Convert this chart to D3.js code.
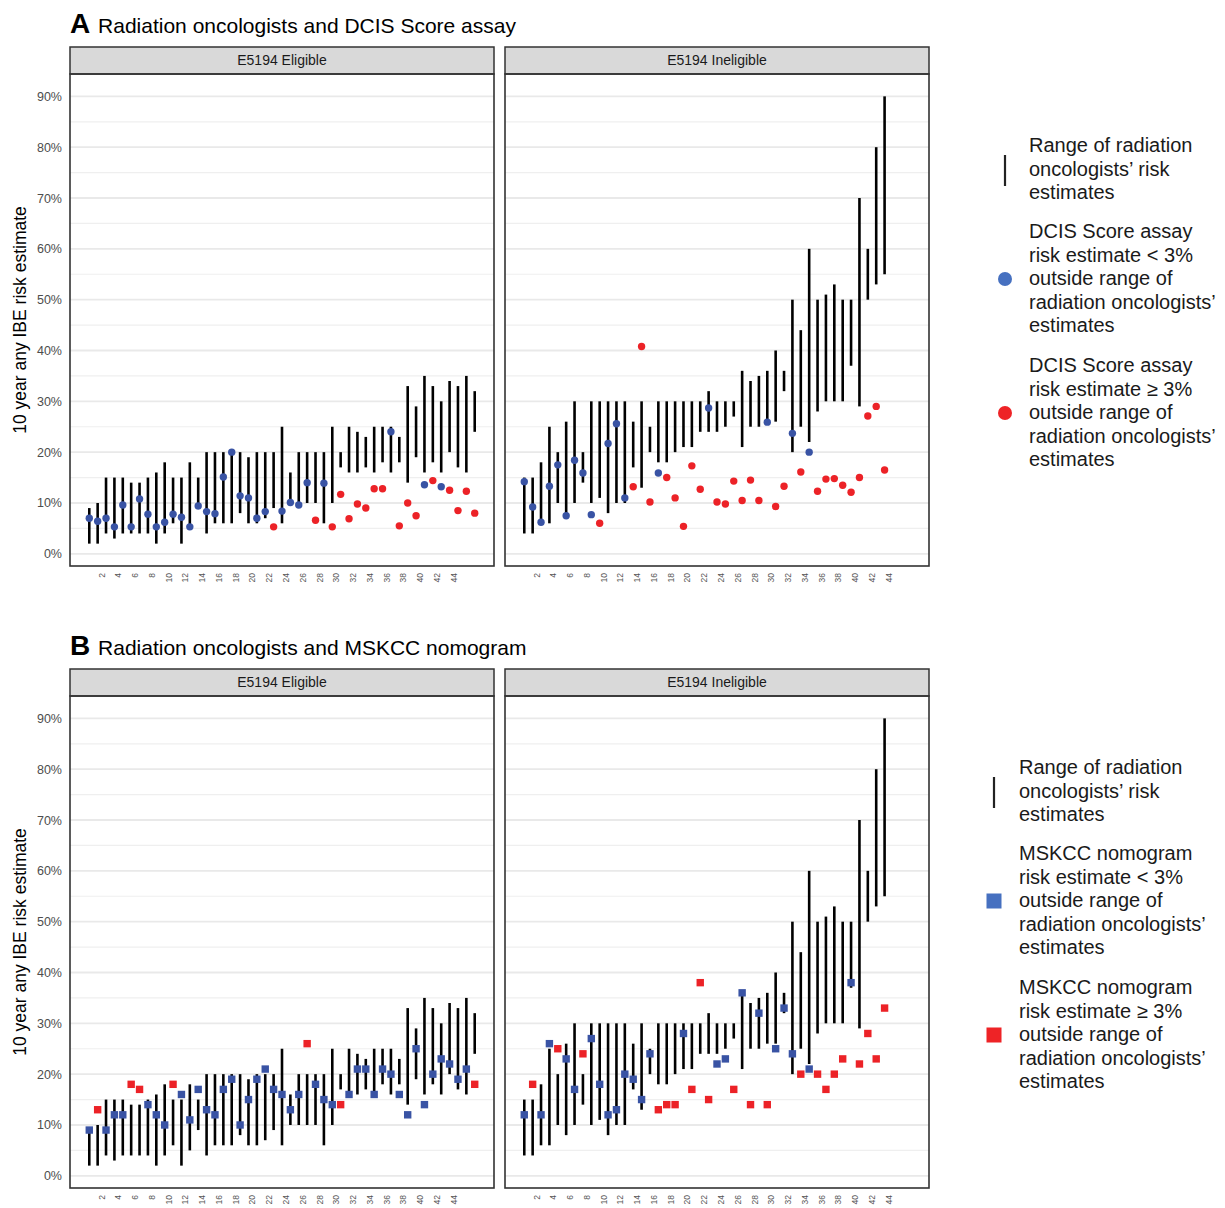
<!DOCTYPE html>
<html>
<head>
<meta charset="utf-8">
<script src="https://cdn.jsdelivr.net/npm/d3@7"></script>
<style>
  body { margin: 0; background: #fff; }
  text { font-family: "Liberation Sans", Arial, Helvetica, sans-serif; }
</style>
</head>
<body>
<svg id="chart"></svg>
<script>
// ---- data ----
// radiation oncologists' range per case, E5194 eligible (47 cases)
const eligLow  = [2,2,4,3,4,4,4,4,2,4, 6,2,5,9,4,6,6,6,8,6, 6,7,9,6,10,10,10,10,6,10, 17,16,16,17,16,18,16,18,14,19, 16,18,16,20,17,16,24];
const eligHigh = [9,10,15,15,15,14,14,15,16,18, 15,15,18,15,20,20,20,20,20,19, 20,20,20,25,16,20,20,20,20,25, 20,25,24,23,25,25,25,23,33,29, 35,33,30,34,33,35,32];
// E5194 ineligible (44 cases)
const inelLow  = [4,4,6,6,10,8,10,14,10,11, 8,10,10,17,13,20,18,18,20,21, 21,24,24,24,25,27,21,25,25,26, 26,32,20,25,22,28,30,30,30,37, 29,50,53,55];
const inelHigh = [15,15,18,25,20,26,30,20,30,30, 30,30,30,26,30,25,30,30,30,30, 30,30,32,30,30,30,36,34,35,36, 40,36,50,44,60,50,51,53,50,50, 70,60,80,90];

// DCIS Score assay estimates; group 0 = < 3% outside range (blue), 1 = >= 3% outside (red)
const dcisElig    = [7.0,6.4,7.0,5.3,9.6,5.3,10.8,7.8,5.3,6.2, 7.8,7.2,5.3,9.4,8.3,7.9,15.1,20.0,11.4,11.0, 7.0,8.3,5.3,8.4,10.1,9.6,14.0,6.6,13.9,5.3, 11.7,6.9,9.8,9.0,12.8,12.8,24.0,5.5,10.0,7.5, 13.6,14.4,13.2,12.5,8.5,12.3,8.0];
const dcisEligGrp = [0,0,0,0,0,0,0,0,0,0, 0,0,0,0,0,0,0,0,0,0, 0,0,1,0,0,0,0,1,0,1, 1,1,1,1,1,1,0,1,1,1, 0,1,0,1,1,1,1];
const dcisInel    = [14.2,9.2,6.2,13.3,17.5,7.5,18.4,15.9,7.7,6.0, 21.7,25.6,11.0,13.2,40.8,10.2,15.9,15.0,11.0,5.4, 17.3,12.7,28.7,10.2,9.8,14.3,10.5,14.5,10.5,25.9, 9.3,13.3,23.7,16.1,20.0,12.3,14.7,14.8,13.5,12.1, 15.0,27.1,29.0,16.5];
const dcisInelGrp = [0,0,0,0,0,0,0,0,0,1, 0,0,0,1,1,1,0,1,1,1, 1,1,0,1,1,1,1,1,1,0, 1,1,0,1,0,1,1,1,1,1, 1,1,1,1];

// MSKCC nomogram estimates
const mskElig    = [9,13,9,12,12,18,17,14,12,10, 18,16,11,17,13,12,17,19,10,15, 19,21,17,16,13,16,26,18,15,14, 14,16,21,21,16,21,20,16,12,25, 14,20,23,22,19,21,18];
const mskEligGrp = [0,1,0,0,0,1,1,0,0,0, 1,0,0,0,0,0,0,0,0,0, 0,0,0,0,0,0,1,0,0,0, 1,0,0,0,0,0,0,0,0,0, 0,0,0,0,0,0,1];
const mskInel    = [12,18,12,26,25,23,17,24,27,18, 12,13,20,19,15,24,13,14,14,28, 17,38,15,22,23,17,36,14,32,14, 25,33,24,20,21,20,17,20,23,38, 22,28,23,33];
const mskInelGrp = [0,1,0,0,1,0,0,1,0,0, 0,0,0,0,0,0,1,1,1,0, 1,1,1,0,0,1,0,1,0,1, 0,0,0,1,0,1,1,1,1,0, 1,1,1,1];

const yTicks = [0,10,20,30,40,50,60,70,80,90];
const yMinor = [5,15,25,35,45,55,65,75,85];
const xTicks = [2,4,6,8,10,12,14,16,18,20,22,24,26,28,30,32,34,36,38,40,42,44];

const grpColor = ["#3953a4", "#ec2227"];
const legColor = ["#4670c0", "#ee2326"];

// ---- layout ----
const W = 1225, H = 1208;
const pw = 424, ph = 492, stripH = 27;
const svg = d3.select("#chart").attr("width", W).attr("height", H);
svg.append("rect").attr("width", W).attr("height", H).attr("fill", "#fff");

const x = d3.scaleLinear().domain([-1.3, 49.3]).range([0, pw]);
const y = d3.scaleLinear().domain([-2.4, 94.4]).range([ph, 0]);

function panel(px, py, label, low, high, est, grp, shape, showY) {
  const g = svg.append("g").attr("transform", `translate(${px},${py})`);

  g.append("rect").attr("x", 0).attr("y", -stripH).attr("width", pw).attr("height", stripH)
    .attr("fill", "#d9d9d9").attr("stroke", "#333").attr("stroke-width", 1.5);
  g.append("text").attr("x", pw / 2).attr("y", -stripH / 2).attr("dy", "0.35em")
    .attr("text-anchor", "middle").attr("font-size", 14).attr("fill", "#1a1a1a").text(label);

  g.selectAll(".minor").data(yMinor).enter().append("line")
    .attr("x1", 0).attr("x2", pw).attr("y1", d => y(d)).attr("y2", d => y(d))
    .attr("stroke", "#efefef").attr("stroke-width", 1.2);
  g.selectAll(".major").data(yTicks).enter().append("line")
    .attr("x1", 0).attr("x2", pw).attr("y1", d => y(d)).attr("y2", d => y(d))
    .attr("stroke", "#e9e9e9").attr("stroke-width", 1.8);

  g.selectAll(".bar").data(low).enter().append("line")
    .attr("x1", (d, i) => x(i + 1)).attr("x2", (d, i) => x(i + 1))
    .attr("y1", d => y(d)).attr("y2", (d, i) => y(high[i]))
    .attr("stroke", "#000").attr("stroke-width", 2.6);

  if (shape === "circle") {
    g.selectAll(".pt").data(est).enter().append("circle")
      .attr("cx", (d, i) => x(i + 1)).attr("cy", d => y(d)).attr("r", 3.7)
      .attr("fill", (d, i) => grpColor[grp[i]]);
  } else {
    const s = 7.4;
    g.selectAll(".pt").data(est).enter().append("rect")
      .attr("x", (d, i) => x(i + 1) - s / 2).attr("y", d => y(d) - s / 2)
      .attr("width", s).attr("height", s)
      .attr("fill", (d, i) => grpColor[grp[i]]);
  }

  g.append("rect").attr("width", pw).attr("height", ph).attr("fill", "none")
    .attr("stroke", "#333").attr("stroke-width", 1.6);

  const xa = g.append("g").attr("transform", `translate(0,${ph})`)
    .call(d3.axisBottom(x).tickValues(xTicks).tickSize(0));
  xa.select(".domain").remove();
  xa.selectAll("text")
    .attr("transform", "rotate(-90)").attr("x", -7).attr("y", 3.5).attr("dy", "0.35em")
    .style("text-anchor", "end").attr("font-size", 8.5).attr("fill", "#555");

  if (showY) {
    const ya = g.append("g")
      .call(d3.axisLeft(y).tickValues(yTicks).tickSize(0).tickPadding(8).tickFormat(d => d + "%"));
    ya.select(".domain").remove();
    ya.selectAll("text").attr("font-size", 12.5).attr("fill", "#4d4d4d");
  }
  return g;
}

function section(off, letter, title, eligEst, eligGrp, inelEst, inelGrp, shape) {
  const t = svg.append("text").attr("x", 70).attr("y", 33 + off).attr("fill", "#000");
  t.append("tspan").attr("font-size", 28).attr("font-weight", "bold").text(letter);
  t.append("tspan").attr("font-size", 21).attr("dx", 2).text(" " + title);

  svg.append("text").attr("transform", `translate(26,${320 + off}) rotate(-90)`)
    .attr("text-anchor", "middle").attr("font-size", 17.5).attr("fill", "#000")
    .text("10 year any IBE risk estimate");

  panel(70, 74 + off, "E5194 Eligible", eligLow, eligHigh, eligEst, eligGrp, shape, true);
  panel(505, 74 + off, "E5194 Ineligible", inelLow, inelHigh, inelEst, inelGrp, shape, false);
}

section(0, "A", "Radiation oncologists and DCIS Score assay", dcisElig, dcisEligGrp, dcisInel, dcisInelGrp, "circle");
section(622, "B", "Radiation oncologists and MSKCC nomogram", mskElig, mskEligGrp, mskInel, mskInelGrp, "square");

// ---- legends ----
function legend(lx, tx, top, lines2, shape) {
  const lg = svg.append("g");
  const lh = 23.5;
  const block = (b0, lines) => {
    const t = lg.append("text").attr("x", tx).attr("y", b0).attr("font-size", 20).attr("fill", "#1a1a1a");
    lines.forEach((s, i) => t.append("tspan").attr("x", tx).attr("y", b0 + i * lh).text(s));
  };
  block(top, ["Range of radiation", "oncologists\u2019 risk", "estimates"]);
  lg.append("line").attr("x1", lx).attr("x2", lx).attr("y1", top + 3).attr("y2", top + 34)
    .attr("stroke", "#222").attr("stroke-width", 2.2);

  const b2 = top + 86, b3 = top + 220;
  block(b2, [lines2[0], "risk estimate < 3%", "outside range of", "radiation oncologists\u2019", "estimates"]);
  block(b3, [lines2[0], "risk estimate \u2265 3%", "outside range of", "radiation oncologists\u2019", "estimates"]);
  [[b2, 0], [b3, 1]].forEach(([b, k]) => {
    const cy = b + 41;
    if (shape === "circle") {
      lg.append("circle").attr("cx", lx).attr("cy", cy).attr("r", 7).attr("fill", legColor[k]);
    } else {
      lg.append("rect").attr("x", lx - 7.5).attr("y", cy - 7.5).attr("width", 15).attr("height", 15).attr("fill", legColor[k]);
    }
  });
}
legend(1005, 1029, 152, ["DCIS Score assay"], "circle");
legend(994, 1019, 774, ["MSKCC nomogram"], "square");
</script>
</body>
</html>
